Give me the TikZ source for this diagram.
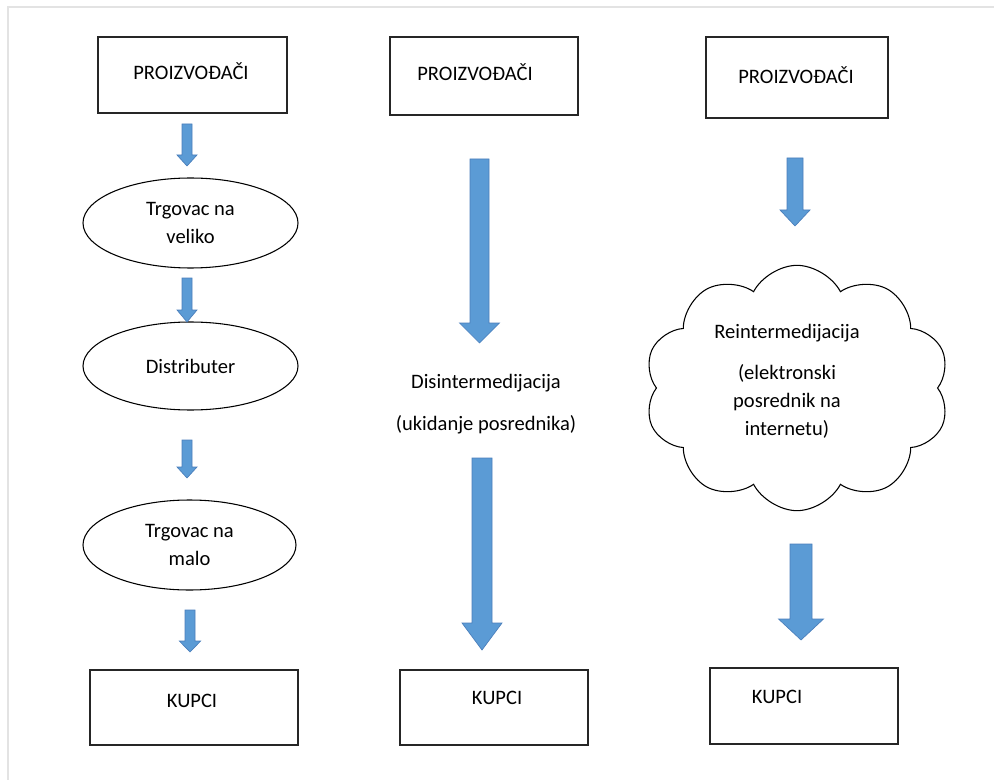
\documentclass[tikz,border=0pt]{standalone}
\usepackage{fontspec}
\setmainfont{Carlito}
\usepackage{tikz}
\usetikzlibrary{shapes.geometric,shapes.symbols,calc}

\definecolor{arrowblue}{HTML}{5B9BD5}
\definecolor{arrowedge}{HTML}{4A7EBB}
\definecolor{framegray}{HTML}{E3E3E3}

\tikzset{
	box/.style={draw=black!85,line width=1.1pt,inner sep=0pt},
	oval/.style={ellipse,draw,line width=0.8pt,align=center,
		minimum width=161.25pt,minimum height=67.5pt},
	cloudy/.style={cloud,draw,line width=0.8pt,cloud puffs=10,
		cloud puff arc=125,cloud ignores aspect,
		minimum width=229pt,minimum height=184pt},
	txt/.style={inner sep=0pt,align=center},
	fat/.style args={#1/#2/#3}{draw=arrowedge,fill=arrowblue,line width=0.5pt,
		to path={let \p1=(\tikztostart), \p2=(\tikztotarget) in
			(\x1-#1/2,\y1) -- (\x1+#1/2,\y1) -- (\x1+#1/2,\y2+#3)
			-- (\x1+#2/2,\y2+#3) -- (\x1,\y2) -- (\x1-#2/2,\y2+#3)
			-- (\x1-#1/2,\y2+#3) -- cycle}}
}

\begin{document}
\begin{tikzpicture}[x=0.75pt,y=-0.75pt,font=\fontsize{15.4pt}{21pt}\selectfont]
		\useasboundingbox (0,0) rectangle (994,780);
		\draw[framegray,line width=1.5pt] (994,7) -- (8,7) -- (8,780);
		%
		% left column
		\node[box,minimum width=141.75pt,minimum height=57pt] (P1) at (192.5,75) {};
		\node[txt] (P1t) at (191,71) {PROIZVOĐAČI};
		\node[oval] (W) at (190.5,223) {Trgovac na\\veliko};
		\node[oval,minimum height=66pt] (D) at (190.5,366) {Distributer};
		\node[oval,minimum width=159.75pt] (R) at (189.5,545) {Trgovac na\\malo};
		\node[box,minimum width=156pt,minimum height=56.25pt] (K1) at (194,707.5) {};
		\node[txt] (K1t) at (192,701) {KUPCI};
		% middle column
		\node[box,minimum width=141pt,minimum height=58.5pt] (P2) at (484,76) {};
		\node[txt] (P2t) at (475,72) {PROIZVOĐAČI};
		\node[txt] (Dis) at (486,404) {Disintermedijacija\\[10.5pt](ukidanje posrednika)};
		\node[box,minimum width=141pt,minimum height=56.25pt] (K2) at (494,707.5) {};
		\node[txt] (K2t) at (497,698) {KUPCI};
		% right column
		\node[box,minimum width=136.5pt,minimum height=60.75pt] (P3) at (797,77.5) {};
		\node[txt] (P3t) at (796,75) {PROIZVOĐAČI};
		\node[cloudy] (C) at (797,388) {};
		\node[txt] (Ct) at (787,381) {Reintermedijacija\\[9.75pt](elektronski\\posrednik na\\internetu)};
		\node[box,minimum width=141pt,minimum height=57pt] (K3) at (804,706) {};
		\node[txt] (K3t) at (777,697) {KUPCI};
		%
		\coordinate (a1) at (187,124); \coordinate (a1') at (187,166);
		\coordinate (a2) at (187,278); \coordinate (a2') at (187,322);
		\coordinate (a3) at (187,440); \coordinate (a3') at (187,478);
		\coordinate (a4) at (190,610); \coordinate (a4') at (190,652);
		\coordinate (m1) at (479.5,159); \coordinate (m1') at (479.5,343);
		\coordinate (m2) at (482,458); \coordinate (m2') at (482,650);
		\coordinate (r1) at (795,158); \coordinate (r1') at (795,226);
		\coordinate (r2) at (801,544); \coordinate (r2') at (801,640);
		%
		\path
		% left arrows
		(a1) edge[fat=7.5pt/15pt/8.25pt] (a1')
		(a2) edge[fat=7.5pt/15pt/9pt] (a2')
		(a3) edge[fat=7.5pt/15pt/8.25pt] (a3')
		(a4) edge[fat=7.5pt/16pt/8.25pt] (a4')
		% middle arrows
		(m1) edge[fat=14.25pt/30pt/15pt] (m1')
		(m2) edge[fat=15pt/30pt/20.25pt] (m2')
		% right arrows
		(r1) edge[fat=12pt/22.5pt/12pt] (r1')
		(r2) edge[fat=16.5pt/33.75pt/15.75pt] (r2');
	\end{tikzpicture}
\end{document}
